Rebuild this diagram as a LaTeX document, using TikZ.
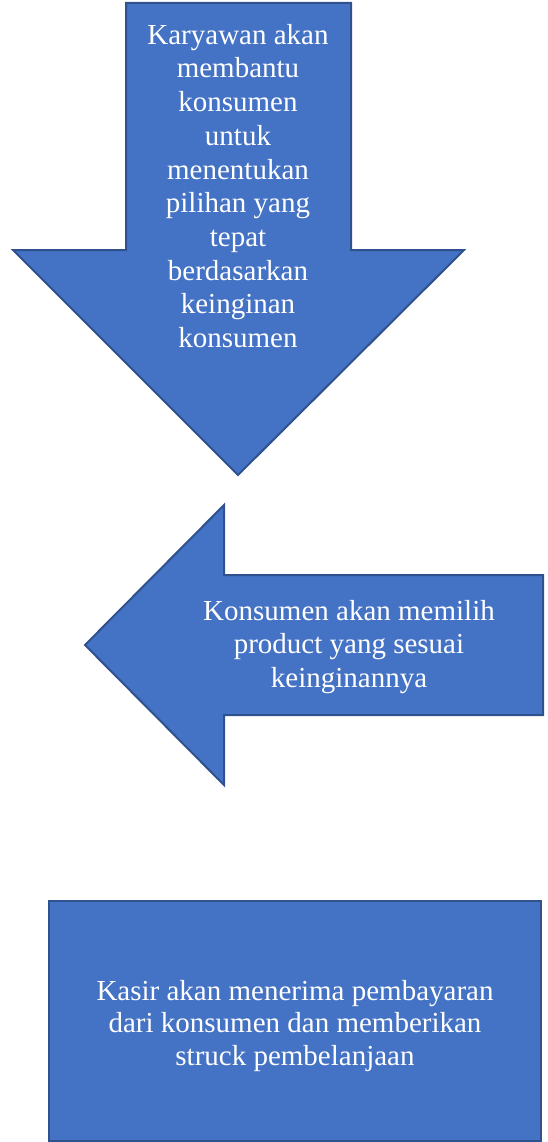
\documentclass[tikz,border=0pt]{standalone}
\usepackage{fontspec}
\setmainfont{Liberation Serif}
\definecolor{shapefill}{HTML}{4472C4}
\definecolor{shapeline}{HTML}{2F528F}
\begin{document}
\begin{tikzpicture}[x=1pt,y=-1pt,
  shapestyle/.style={fill=shapefill,draw=shapeline,line width=2pt,line join=miter},
  label/.style={text=white,align=center,font=\fontsize{29}{33.7}\selectfont,inner sep=0pt}]
\useasboundingbox (0,0) rectangle (548,1142);
% down arrow
\path[shapestyle] (126,3) -- (351,3) -- (351,250) -- (464,250) -- (238,475) -- (13,250) -- (126,250) -- cycle;
\node[label] (t1) at (238,186) {Karyawan akan\\membantu\\konsumen\\untuk\\menentukan\\pilihan yang\\tepat\\berdasarkan\\keinginan\\konsumen};
% left arrow
\path[shapestyle] (224,505) -- (224,575) -- (543,575) -- (543,715) -- (224,715) -- (224,785) -- (85,645) -- cycle;
\node[label] (t2) at (349,647) {Konsumen akan memilih\\product yang sesuai\\keinginannya};
% rectangle
\path[shapestyle] (49,901) rectangle (541,1141);
\node[label,font=\fontsize{29}{32.5}\selectfont] (t3) at (295,1026) {Kasir akan menerima pembayaran\\dari konsumen dan memberikan\\struck pembelanjaan};
\end{tikzpicture}
\end{document}
